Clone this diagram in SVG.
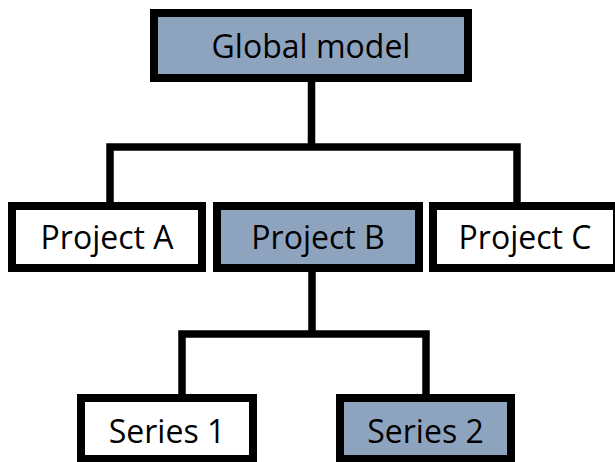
<svg xmlns="http://www.w3.org/2000/svg" width="615" height="462" viewBox="0 0 615 462">
  <style>
    .box { stroke: #000; stroke-width: 8; }
    .hl { fill: #8EA4BE; }
    .pl { fill: #FFFFFF; }
    .lbl { font-family: "Open Sans", "Noto Sans", sans-serif; font-size: 32px; fill: #000; text-anchor: middle; }
    .conn { fill: none; stroke: #000; stroke-width: 7.5; stroke-linejoin: miter; }
  </style>
  <rect width="615" height="462" fill="#FFFFFF"/>
  <g id="connectors">
    <path class="conn" d="M311.5 82 V147 M110 202 V147 H517 V202"/>
    <path class="conn" d="M312 272 V334 M182 394 V334 H426 V394"/>
  </g>
  <g id="global-model">
    <rect class="box hl" x="154" y="13" width="314" height="65"/>
    <text class="lbl" x="311" y="58">Global model</text>
  </g>
  <g id="project-a">
    <rect class="box pl" x="12" y="206" width="190" height="62"/>
    <text class="lbl" x="107" y="249">Project A</text>
  </g>
  <g id="project-b">
    <rect class="box hl" x="217" y="206" width="202" height="62"/>
    <text class="lbl" x="318" y="249">Project B</text>
  </g>
  <g id="project-c">
    <rect class="box pl" x="433" y="206" width="184" height="62"/>
    <text class="lbl" x="525" y="249">Project C</text>
  </g>
  <g id="series-1">
    <rect class="box pl" x="81" y="398" width="172" height="61"/>
    <text class="lbl" x="167" y="443">Series 1</text>
  </g>
  <g id="series-2">
    <rect class="box hl" x="340" y="398" width="171" height="61"/>
    <text class="lbl" x="425.5" y="443">Series 2</text>
  </g>
</svg>
